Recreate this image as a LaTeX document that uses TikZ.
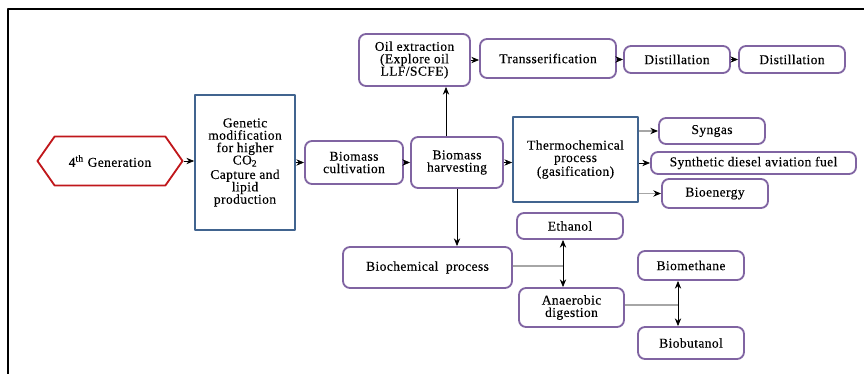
\documentclass[tikz,border=0pt]{standalone}
\usepackage{fontspec}
\setmainfont{Liberation Serif}
\newfontfamily\diagfont[LetterSpace=3,FakeBold=0.3]{Liberation Serif}
\usepackage{xcolor}
\usepackage{tikz}
\usetikzlibrary{arrows.meta,calc,shapes.symbols}

\definecolor{boxpurple}{HTML}{8064A2}
\definecolor{boxblue}{HTML}{41648F}
\definecolor{genred}{HTML}{C0171B}

\begin{document}
\begin{tikzpicture}[x=0.025cm, y=-0.025cm, >={Stealth[length=5.5pt,width=4.5pt]}, line join=round,
    every node/.style={font=\diagfont\fontsize{9.6}{8.8}\selectfont, align=center, inner sep=0pt},
    pbox/.style={draw=boxpurple, line width=1.3pt, rounded corners=5pt, fill=white},
    bbox/.style={draw=boxblue, line width=1.2pt, fill=white},
    link/.style={->, black, line width=0.5pt},
    glink/.style={-{Stealth[length=5.5pt,width=4.5pt,black]}, gray!70, line width=0.8pt}]
  \useasboundingbox (0,0) rectangle (864,374);
  % frame
  \draw[line width=1.3pt] (8,374) -- (8,9) -- (864,9);
  % main row
  \node[signal, signal to=east and west, signal pointer angle=110, draw=genred, line width=1.3pt,
        minimum width=3.625cm, minimum height=1.225cm] (gen) at (110,161) {4\textsuperscript{th} Generation};
  \node[bbox, minimum width=2.5cm, minimum height=3.375cm] (genmod) at (245,162.5)
    {Genetic\\modification\\for higher\\CO\textsubscript{2}\\[1.5pt]Capture and\\lipid\\production};
  \node[pbox, minimum width=2.45cm, minimum height=1.075cm] (cult) at (354,162.5) {Biomass\\cultivation};
  \node[pbox, minimum width=2.3cm, minimum height=1.275cm] (harv) at (457,162.5) {Biomass\\harvesting};
  \node[bbox, minimum width=3.125cm, minimum height=2.125cm] (thermo) at (575.5,159.5)
    {Thermochemical\\process\\(gasification)};
  % oil route
  \node[pbox, minimum width=2.775cm, minimum height=1.3cm] (oil) at (414.5,60) {Oil extraction\\(Explore oil\\LLF/SCFE)};
  \node[pbox, minimum width=3.4cm, minimum height=0.975cm] (trans) at (548,58.5) {Transserification};
  \node[pbox, minimum width=2.65cm, minimum height=0.675cm] (dist1) at (677,59.5) {Distillation};
  \node[pbox, minimum width=2.65cm, minimum height=0.675cm] (dist2) at (792,59.5) {Distillation};
  % thermochemical products
  \node[pbox, minimum width=2.65cm, minimum height=0.65cm] (syngas) at (712,131) {Syngas};
  \node[pbox, minimum width=5.125cm, minimum height=0.55cm] (diesel) at (753.5,163) {Synthetic diesel aviation fuel};
  \node[pbox, minimum width=2.65cm, minimum height=0.725cm] (bioen) at (715,193.5) {Bioenergy};
  % biochemical route
  \node[pbox, minimum width=4.225cm, minimum height=1.025cm] (biochem) at (427.5,267.5) {Biochemical\ \ process};
  \node[pbox, minimum width=2.65cm, minimum height=0.65cm] (ethanol) at (570,226) {Ethanol};
  \node[pbox, minimum width=2.625cm, minimum height=0.975cm] (anaer) at (571.5,307.5) {Anaerobic\\digestion};
  \node[pbox, minimum width=2.65cm, minimum height=0.725cm] (biometh) at (691,265.5) {Biomethane};
  \node[pbox, minimum width=2.65cm, minimum height=0.8cm] (biobut) at (691,343) {Biobutanol};
  \coordinate (j1) at (563,266);
  \coordinate (j2) at (678,305);
  % connectors
  \draw[link] (gen.east) -- (genmod.west |- gen.east);
  \draw[link] (genmod.east |- cult.west) -- (cult.west);
  \draw[link] (cult.east) -- (harv.west |- cult.east);
  \draw[link] (harv.east) -- (thermo.west |- harv.east);
  \draw[link] ($(harv.north)+(-11,0)$) -- ($(harv.north |- oil.south)+(-11,0)$);
  \draw[link] (oil.east) -- (trans.west |- oil.east);
  \draw[link] (trans.east |- dist1.west) -- (dist1.west);
  \draw[link] (dist1.east) -- (dist2.west);
  \draw[glink] (thermo.east |- syngas.west) -- (syngas.west);
  \draw[link] (thermo.east |- diesel.west) -- (diesel.west);
  \draw[glink] (thermo.east |- bioen.west) -- (bioen.west);
  \draw[link] (harv.south) -- (harv.south |- biochem.north);
  \draw[gray!70, line width=0.8pt] (biochem.east |- j1) -- (j1);
  \draw[<->, line width=0.5pt] (j1 |- ethanol.south) -- (j1 |- anaer.north);
  \draw[gray!70, line width=0.8pt] (anaer.east |- j2) -- (j2);
  \draw[<->, line width=0.5pt] (j2 |- biometh.south) -- (j2 |- biobut.north);
\end{tikzpicture}
\end{document}
